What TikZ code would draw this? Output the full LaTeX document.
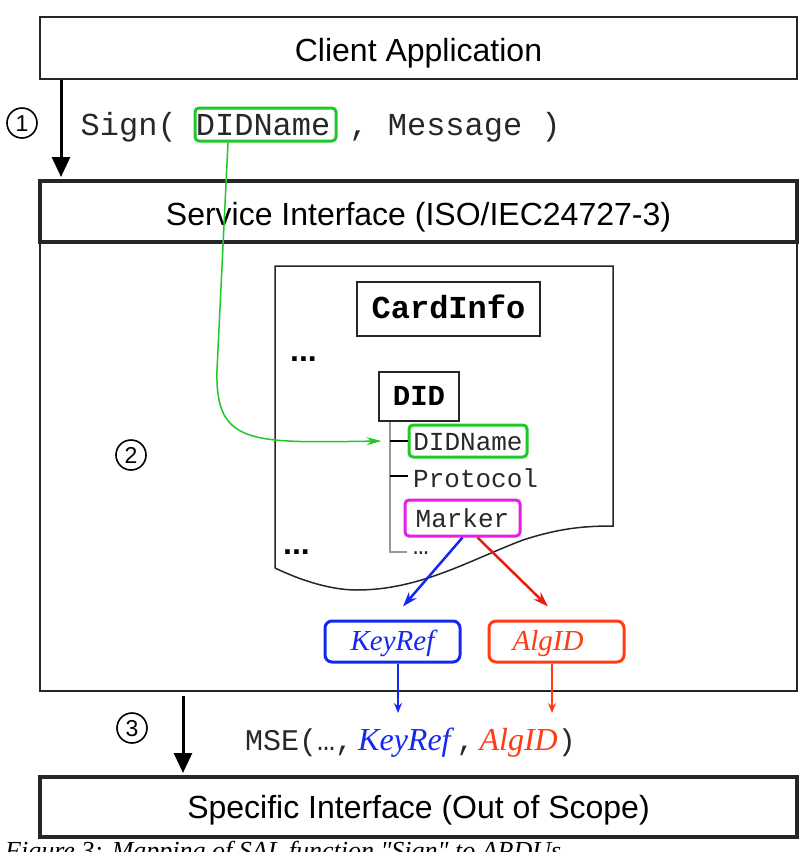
\documentclass[tikz,border=0pt]{standalone}
\usepackage{fontspec}
\usetikzlibrary{arrows.meta}
\newfontfamily\sansf{Liberation Sans}
\newfontfamily\monof{Liberation Mono}
\newfontfamily\seriff{Liberation Serif}
\newcommand\fsz[1]{\fontsize{#1}{#1}\selectfont}
\definecolor{cgreen}{RGB}{30,200,40}
\definecolor{cblue}{RGB}{20,40,240}
\definecolor{cred}{RGB}{230,30,20}
\definecolor{corange}{RGB}{255,60,20}
\definecolor{cmag}{RGB}{230,30,230}
\definecolor{ctext}{RGB}{40,40,40}
\tikzset{
  layerbox/.style={draw=black!85, inner sep=0pt, minimum width=757pt, font=\sansf\fsz{32}, text=black, text depth=0pt},
  thinbox/.style={layerbox, line width=1.5pt},
  thickbox/.style={layerbox, line width=4pt},
  bigarrow/.style={line width=3pt, -{Triangle[length=20pt,width=18pt]}},
  monobox/.style={draw=black!85, line width=1.5pt, inner sep=0pt, font=\monof\bfseries, text=black, text depth=0pt},
  fieldbox/.style={line width=3pt, rounded corners=4pt, inner sep=0pt, font=\monof\fsz{26}, text=ctext, text depth=0pt},
  parambox/.style={line width=3pt, rounded corners=7pt, inner sep=0pt, minimum width=135pt, minimum height=41pt, font=\seriff\itshape\fsz{29}, text depth=0pt, text height=17pt},
  circnum/.style={circle, draw=black, line width=1.6pt, inner sep=0pt, minimum size=30pt, font=\sansf\fsz{23}, text=black, text height=16pt, text depth=0pt},
  dots/.style={anchor=base west, inner sep=0pt, font=\sansf\bfseries\fsz{32}},
  docline/.style={draw=black!85, line width=1.5pt},
  treeline/.style={draw=black!40, line width=1.5pt},
  tick/.style={draw=black, line width=1.5pt},
  colarrow/.style={line width=2.5pt, -{Stealth[length=15pt,width=10pt]}},
  downarrow/.style={line width=1.5pt, -{Stealth[length=10pt,width=8pt]}},
}
\begin{document}
\begin{tikzpicture}[x=1pt,y=-1pt]
\useasboundingbox (0,0) rectangle (809,852);
\fill[white] (0,0) rectangle (809,852);

% layers
\node[thinbox, minimum height=62pt, text height=27pt] (client) at (418.5,48) {Client Application};
\node[draw=black!85, line width=1.5pt, minimum width=757pt, minimum height=449pt, inner sep=0pt] (area) at (418.5,466.5) {};
\node[thickbox, minimum height=61pt, text height=27pt] (service) at (418.5,211.5) {Service Interface (ISO/IEC24727-3)};
\node[thickbox, minimum height=60pt, text height=23pt] (specific) at (418.5,807) {Specific Interface (Out of Scope)};

% step numbers
\node[circnum] (n1) at (22,123) {1};
\node[circnum] (n2) at (131,455) {2};
\node[circnum] (n3) at (132,728) {3};

% step 1
\coordinate (x1) at (61,0);
\draw[bigarrow, shorten >=2pt] (client.south -| x1) -- (service.north -| x1);
\node[draw=cgreen, line width=3pt, rounded corners=4pt, minimum width=141pt, minimum height=33pt, inner sep=0pt] (sdid) at (265.5,124.5) {};
\node[anchor=base west, inner sep=0pt, font=\monof\fsz{32}, text=ctext] (sign) at (80.5,135) {Sign( DIDName , Message )};

% CardInfo document
\draw[docline] (275,568) -- (275,266) -- (613,266) -- (613,526)
  .. controls (585,526) and (560,528) .. (523,540)
  .. controls (470,560) and (420,590) .. (357,590)
  .. controls (330,590) and (300,580) .. (275,568);
\node[monobox, font=\monof\bfseries\fsz{32}, minimum width=183pt, minimum height=54pt, text height=18pt] (cardinfo) at (448.5,309) {CardInfo};
\node[dots] (dots1) at (290,361) {...};
\node[dots] (dots2) at (283,554) {...};
\node[monobox, font=\monof\bfseries\fsz{29}, minimum width=80pt, minimum height=49pt, text height=17pt] (did) at (419,396.5) {DID};

% tree
\coordinate (tx) at (390,0);
\draw[treeline] (did.south -| tx) -- (390,552) -- (407,552);
\node[fieldbox, draw=cgreen, minimum width=118pt, minimum height=32pt, text height=18pt] (didname) at (468,441) {DIDName};
\node[anchor=base west, inner sep=0pt, font=\monof\fsz{26}, text=ctext] (protocol) at (413,487) {Protocol};
\node[fieldbox, draw=cmag, minimum width=115pt, minimum height=36pt, text height=19pt] (marker) at (462.5,518) {Marker};
\node[anchor=base west, inner sep=0pt, font=\monof\fsz{26}, text=ctext] (tdots) at (413,554) {…};
\draw[tick] (tx |- didname.west) -- (didname.west);
\draw[tick] (390,476) -- (408,476);

% green mapping
\draw[line width=1.5pt, cgreen, -{Stealth[length=15pt,width=8pt]}]
  ([xshift=-37.5pt]sdid.south) -- (217,370) .. controls (215,445) and (250,443) .. ([xshift=-26pt]didname.west);

% parameters
\node[parambox, draw=cblue, text=cblue] (keyref) at (392.5,641.5) {KeyRef};
\node[parambox, draw=corange, text=corange] (algid) at (556.5,641.5) {AlgID\hspace*{17pt}};
\draw[colarrow, cblue] (marker.south) -- ([xshift=10.5pt,yshift=13pt]keyref.north);
\draw[colarrow, cred] ([xshift=15pt]marker.south) -- ([xshift=-8.5pt,yshift=13pt]algid.north);

% step 3
\coordinate (x3) at (183,0);
\draw[bigarrow, shorten <=4pt, shorten >=2pt] (area.south -| x3) -- (specific.north -| x3);
\node[anchor=base west, inner sep=0pt, text=ctext] (mse) at (245,750)
  {\monof\fsz{30}MSE(…,\hspace{5pt}{\color{cblue}\seriff\itshape\fsz{32}KeyRef}\hspace{6pt},\hspace{5pt}{\color{corange}\seriff\itshape\fsz{32}AlgID})};
\coordinate (kb) at (398,713);
\coordinate (ab) at (552,713);
\draw[downarrow, cblue] ([xshift=5.5pt]keyref.south) -- (kb);
\draw[downarrow, corange] ([xshift=-4.5pt]algid.south) -- (ab);

% caption (cut off at the bottom, as in the reference)
\node[anchor=base west, inner sep=0pt, font=\seriff\itshape\fsz{26}, text=black] (caption) at (5,859) {Figure 3: Mapping of SAL function "Sign" to APDUs};
\end{tikzpicture}
\end{document}
